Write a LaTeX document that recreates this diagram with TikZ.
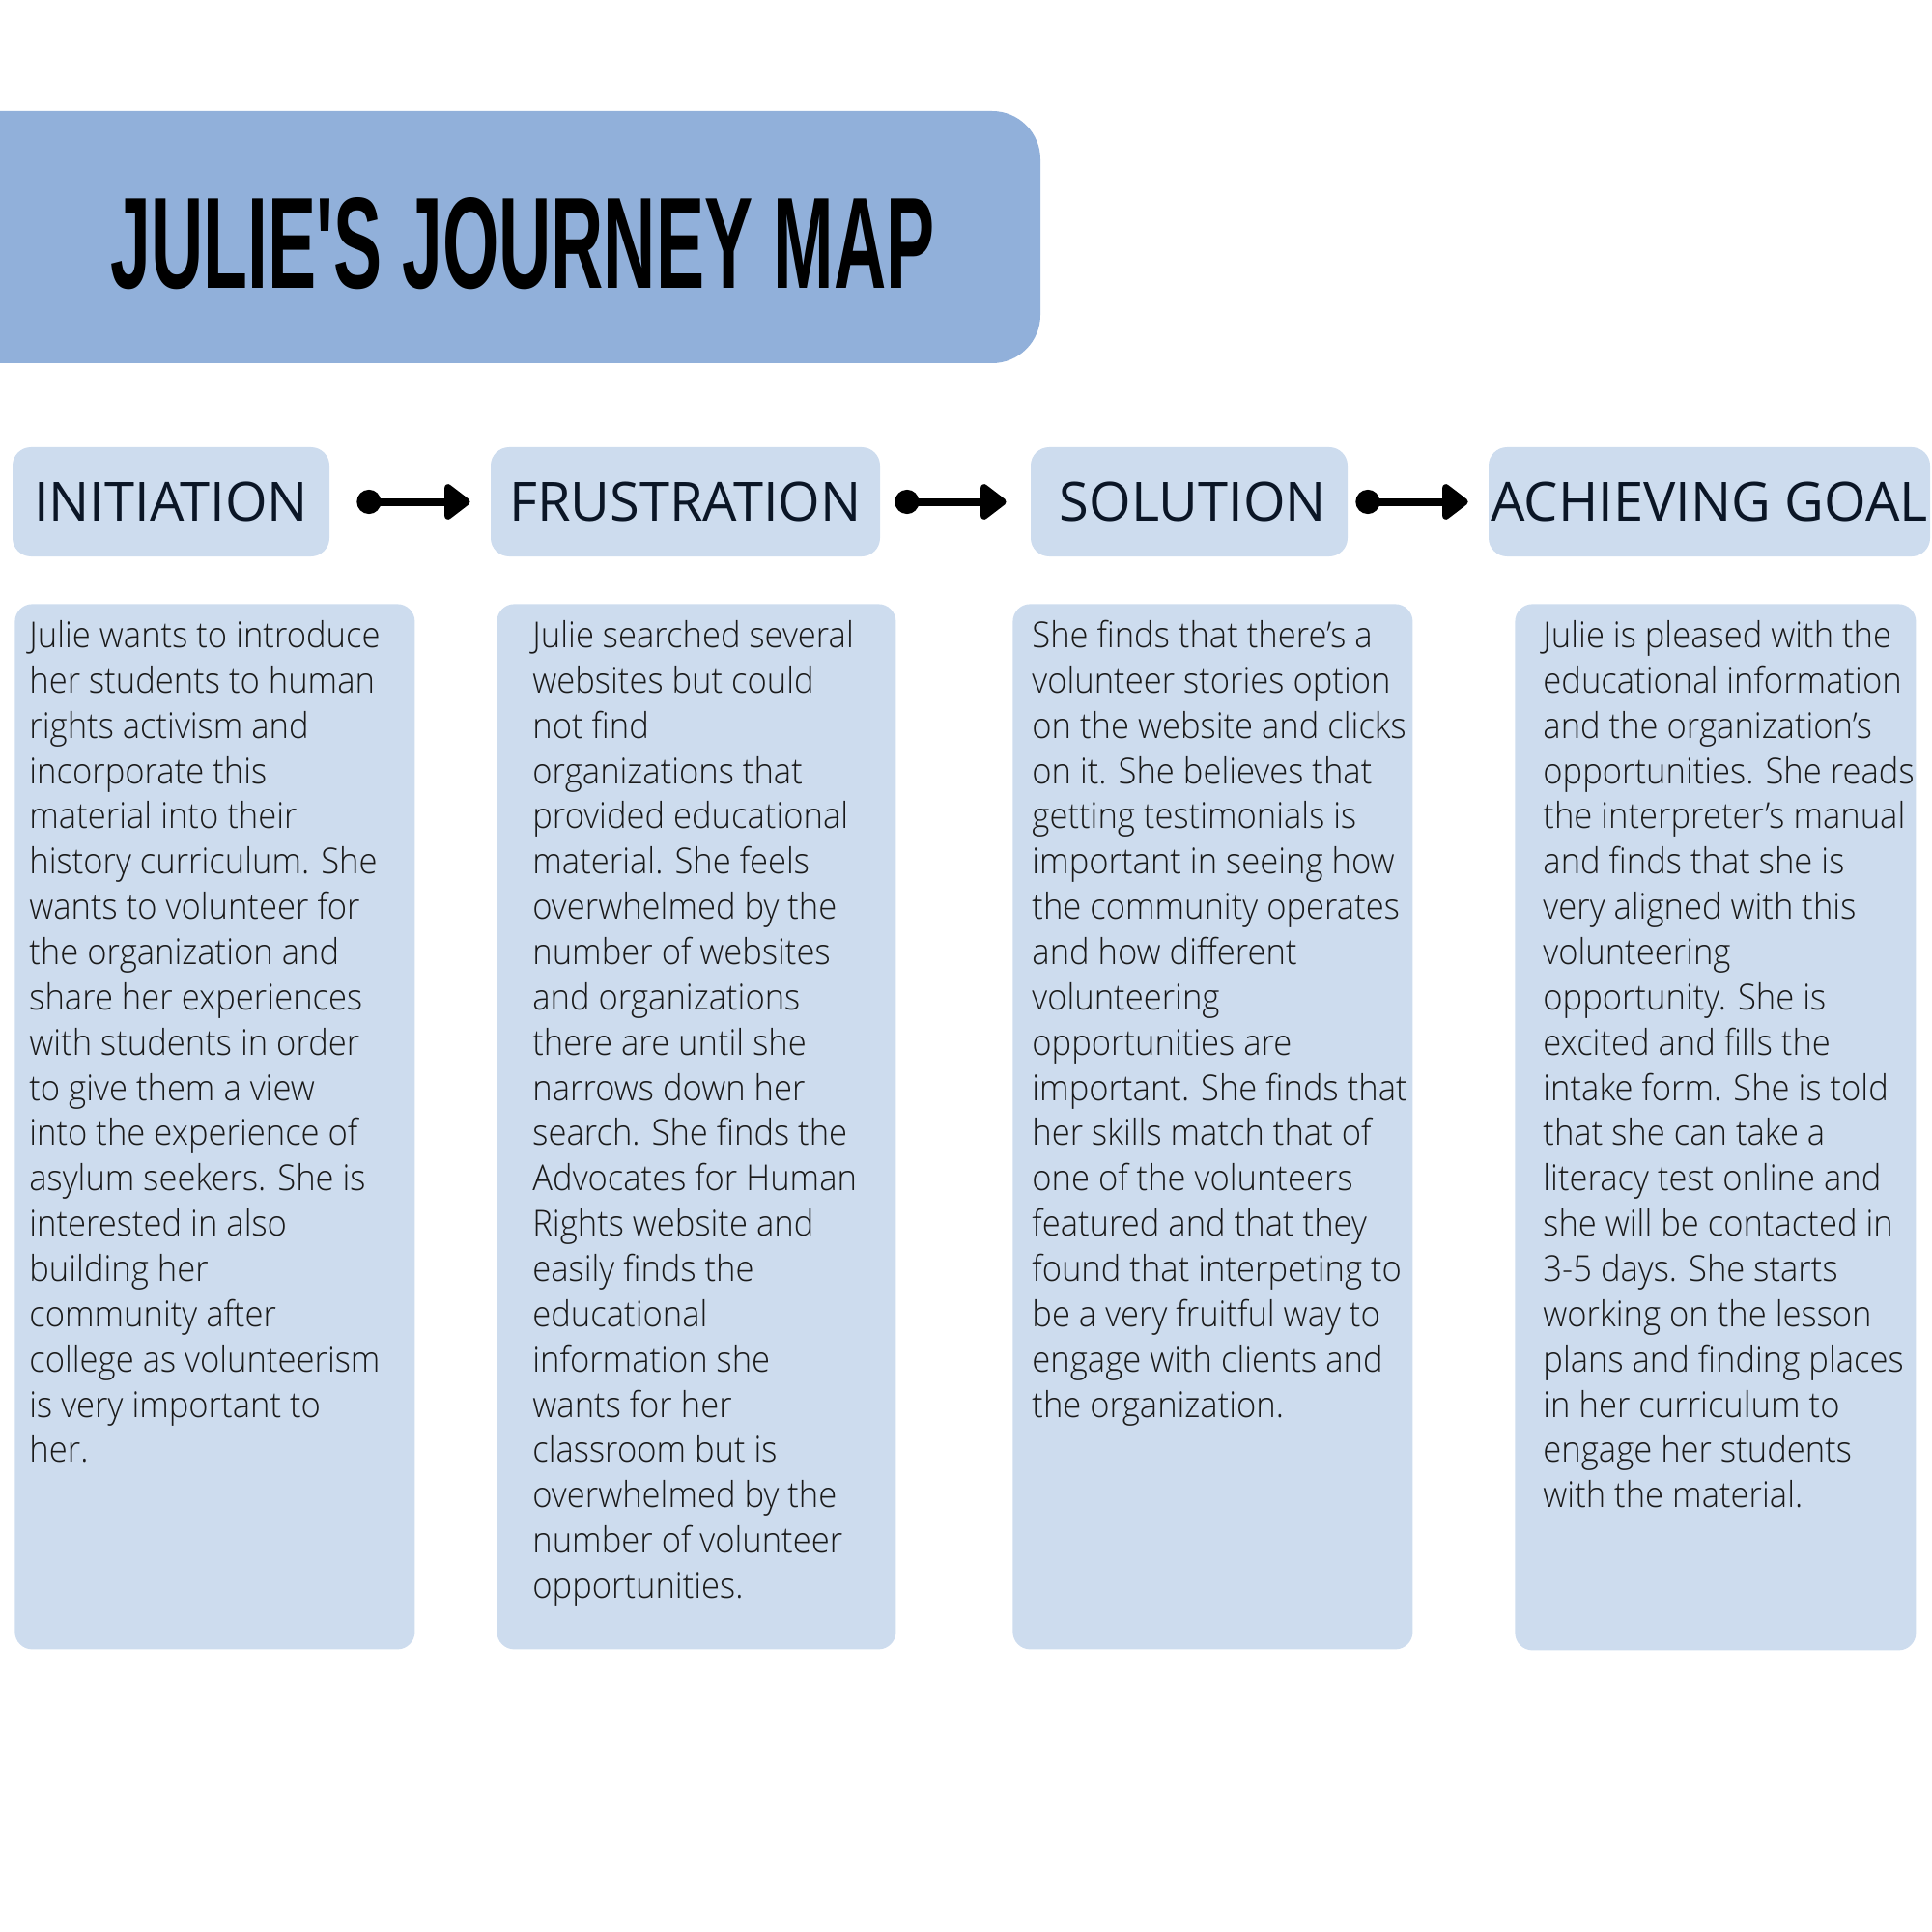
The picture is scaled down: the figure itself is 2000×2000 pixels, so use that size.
\documentclass[tikz,border=0pt]{standalone}
\usepackage{fontspec}
\setmainfont{Open Sans}
\newfontfamily\bodyfont{Open Sans Light}[FakeStretch=0.935]
\newfontfamily\titlefont{Liberation Sans}[Ligatures=TeXOff]
\usetikzlibrary{arrows.meta}

\definecolor{bannerblue}{HTML}{91B0DA}
\definecolor{paleblue}{HTML}{CDDCEE}
\definecolor{inkdark}{HTML}{0B1626}
\definecolor{bodyink}{HTML}{1A1A1A}

% a card's text block, its reference point on the first baseline
\newcommand{\cardlines}[1]{\parbox[t]{260pt}{\raggedright #1}}

\tikzset{
  stagebox/.style={fill=paleblue, rounded corners=9.5pt, inner sep=0pt,
    minimum height=56.5pt, text=inkdark, font=\fontsize{28pt}{34pt}\selectfont},
  cardbox/.style={fill=paleblue, rounded corners=9pt, inner sep=0pt},
  cardtext/.style={anchor=base west, inner sep=0pt, text=bodyink,
    font=\bodyfont\fontsize{18.5pt}{23.43pt}\selectfont},
  flow/.style={line width=4pt, draw=black,
    {Circle[length=12.5pt, width=12.5pt]}-{Triangle[length=14.5pt, width=21pt, round]}}
}

\begin{document}
\begin{tikzpicture}[x=0.5pt, y=-0.5pt]
  \useasboundingbox (0,0) rectangle (2000,2000);
  \clip (0,0) rectangle (2000,2000);

  % title banner, square on the left edge
  \fill[bannerblue, rounded corners=25pt] (-60,115) rectangle (1077,376);
  \node[anchor=base west, inner sep=0pt] (title) at (114,299)
    {\resizebox{426.5pt}{47pt}{\titlefont\bfseries JULIE'S JOURNEY MAP}};

  % stage headers
  \node[stagebox, minimum width=164pt] (h1) at (177,519.5) {INITIATION};
  \node[stagebox, minimum width=201.5pt] (h2) at (709.5,519.5) {FRUSTRATION};
  \node[stagebox, minimum width=164pt] (h3) at (1231,519.5) {\hspace{4pt}SOLUTION};
  \node[stagebox, minimum width=228.5pt] (h4) at (1769.5,519.5) {ACHIEVING GOAL};

  % connectors between stages
  \draw[flow, shorten <=14pt, shorten >=10.5pt] (h1.east) -- (h2.west);
  \draw[flow, shorten <=7.5pt, shorten >=12.5pt] (h2.east) -- (h3.west);
  \draw[flow, shorten <=4pt, shorten >=10.5pt] (h3.east) -- (h4.west);

  % description cards
  \node[cardbox, minimum width=207pt, minimum height=541pt, anchor=north west] (c1) at (15,625) {};
  \node[cardbox, minimum width=206.5pt, minimum height=541pt, anchor=north west] (c2) at (514,625) {};
  \node[cardbox, minimum width=207pt, minimum height=541pt, anchor=north west] (c3) at (1048,625) {};
  \node[cardbox, minimum width=207.5pt, minimum height=541.5pt, anchor=north west] (c4) at (1568,625) {};

  \node[cardtext] (t1) at (30,670.5) {\cardlines{Julie wants to introduce\\
her students to human\\
rights activism and\\
incorporate this\\
material into their\\
history curriculum. She\\
wants to volunteer for\\
the organization and\\
share her experiences\\
with students in order\\
to give them a view\\
into the experience of\\
asylum seekers. She is\\
interested in also\\
building her\\
community after\\
college as volunteerism\\
is very important to\\
her.}};

  \node[cardtext] (t2) at (551,670.5) {\cardlines{Julie searched several\\
websites but could\\
not find\\
organizations that\\
provided educational\\
material. She feels\\
overwhelmed by the\\
number of websites\\
and organizations\\
there are until she\\
narrows down her\\
search. She finds the\\
Advocates for Human\\
Rights website and\\
easily finds the\\
educational\\
information she\\
wants for her\\
classroom but is\\
overwhelmed by the\\
number of volunteer\\
opportunities.}};

  \node[cardtext] (t3) at (1068,670.5) {\cardlines{She finds that there’s a\\
volunteer stories option\\
on the website and clicks\\
on it. She believes that\\
getting testimonials is\\
important in seeing how\\
the community operates\\
and how different\\
volunteering\\
opportunities are\\
important. She finds that\\
her skills match that of\\
one of the volunteers\\
featured and that they\\
found that interpeting to\\
be a very fruitful way to\\
engage with clients and\\
the organization.}};

  \node[cardtext] (t4) at (1597,670.5) {\cardlines{Julie is pleased with the\\
educational information\\
and the organization’s\\
opportunities. She reads\\
the interpreter’s manual\\
and finds that she is\\
very aligned with this\\
volunteering\\
opportunity. She is\\
excited and fills the\\
intake form. She is told\\
that she can take a\\
literacy test online and\\
she will be contacted in\\
3-5 days. She starts\\
working on the lesson\\
plans and finding places\\
in her curriculum to\\
engage her students\\
with the material.}};
\end{tikzpicture}
\end{document}
